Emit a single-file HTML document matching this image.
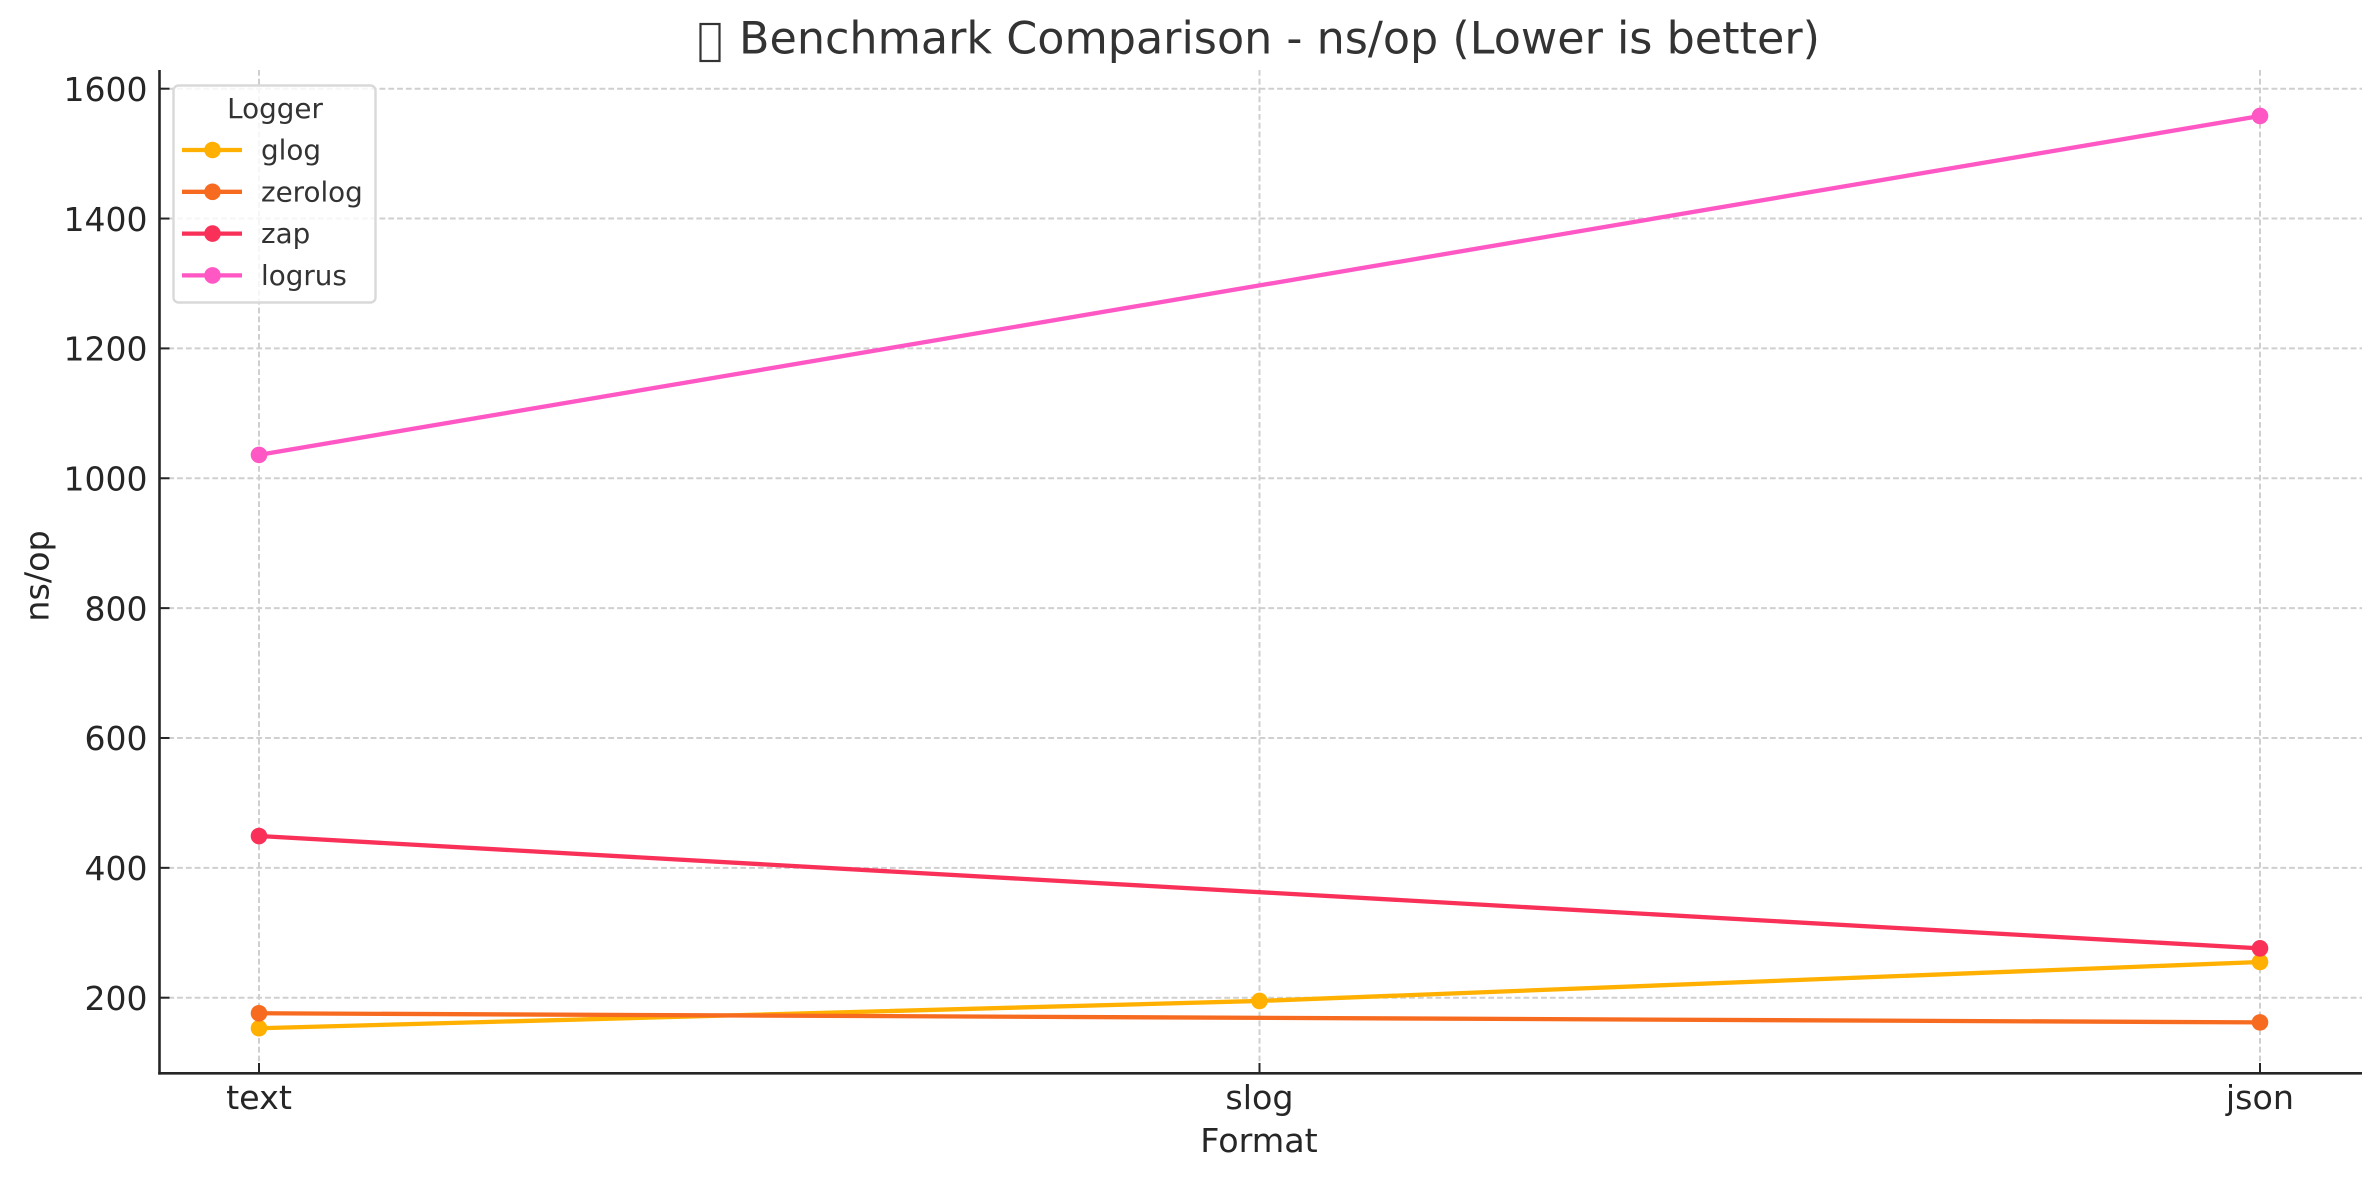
<!DOCTYPE html>
<html lang="en">
<head>
<meta charset="utf-8">
<title>Benchmark Comparison - ns/op</title>
<style>
  html, body { margin: 0; padding: 0; background: #fff; }
  svg { display: block; font-family: "DejaVu Sans", "Liberation Sans", sans-serif; }
</style>
</head>
<body>
<svg id="chart" xmlns="http://www.w3.org/2000/svg" width="2379" height="1180" viewBox="0 0 2379 1180">
  <rect x="0" y="0" width="2379" height="1180" fill="#ffffff"/>
  <g id="grid"></g>
  <g id="series"></g>
  <g id="ticks"></g>
  <line x1="159.5" y1="70" x2="159.5" y2="1074.6" stroke="#262626" stroke-width="2.6"/>
  <line x1="158.2" y1="1073.3" x2="2362" y2="1073.3" stroke="#262626" stroke-width="2.6"/>
  <rect x="700.5" y="24" width="19" height="37" fill="none" stroke="#333333" stroke-width="2.2"/>
  <text x="739" y="53.5" font-size="44.44" fill="#333333">Benchmark Comparison - ns/op (Lower is better)</text>
  <text x="1259" y="1152" font-size="33.33" fill="#262626" text-anchor="middle">Format</text>
  <text transform="translate(48.5,576) rotate(-90)" font-size="33.33" fill="#262626" text-anchor="middle">ns/op</text>
  <rect x="173.5" y="85.5" width="202" height="217" rx="5" ry="5" fill="#ffffff" fill-opacity="0.8" stroke="#d9d9d9" stroke-width="2.4"/>
  <text x="275" y="118" font-size="27.78" fill="#333333" text-anchor="middle">Logger</text>
  <g id="legend"></g>
</svg>
<script>
const categories = ["text", "slog", "json"];
const yTickValues = [200, 400, 600, 800, 1000, 1200, 1400, 1600];
const seriesNames = ["glog", "zerolog", "zap", "logrus"];
const seriesColors = ["#ffb000", "#f76b20", "#f93158", "#ff57c4"];
const glogValues = [153, 195, 255];
const zerologValues = [176, null, 162];
const zapValues = [449, null, 276];
const logrusValues = [1036, null, 1558];
const seriesValues = [glogValues, zerologValues, zapValues, logrusValues];

const NS = "http://www.w3.org/2000/svg";
function xScale(i) { return 259 + i * 1000.5; }
function yScale(v) { return 997.7 - (v - 200) * 0.64929; }
function make(parent, tag, attrs, text) {
  const el = document.createElementNS(NS, tag);
  for (const k in attrs) el.setAttribute(k, attrs[k]);
  if (text !== undefined) el.textContent = text;
  parent.appendChild(el);
  return el;
}

const grid = document.getElementById("grid");
const ticks = document.getElementById("ticks");
const seriesGroup = document.getElementById("series");
const legend = document.getElementById("legend");
const gridStyle = { stroke: "#cfcfcf", "stroke-width": 2, "stroke-dasharray": "5.8 3", fill: "none" };

yTickValues.forEach(function (v) {
  const y = yScale(v);
  const g = make(grid, "line", Object.assign({ x1: 159.5, y1: y, x2: 2362, y2: y }, gridStyle));
  
  
  const t = make(ticks, "line", { x1: 159.5, y1: y, x2: 169.5, y2: y, stroke: "#262626", "stroke-width": 2 });
  
  
  const l = make(ticks, "text", { x: 147.5, y: y + 12.2, "font-size": 33, fill: "#262626", "text-anchor": "end" }, String(v));
  
  
});

categories.forEach(function (c, i) {
  const x = xScale(i);
  const g = make(grid, "line", Object.assign({ x1: x, y1: 70, x2: x, y2: 1073 }, gridStyle));
  
  
  const t = make(ticks, "line", { x1: x, y1: 1073, x2: x, y2: 1063, stroke: "#262626", "stroke-width": 2 });
  
  
  const l = make(ticks, "text", { x: x, y: 1109, "font-size": 33.33, fill: "#262626", "text-anchor": "middle" }, c);
  
  
});

seriesNames.forEach(function (name, s) {
  const values = seriesValues[s];
  const color = seriesColors[s];
  const pts = [];
  values.forEach(function (v, i) {
    if (v !== null) pts.push([xScale(i), yScale(v)]);
  });
  const line = make(seriesGroup, "polyline", {
    points: pts.map(function (p) { return p.join(","); }).join(" "),
    fill: "none", stroke: color, "stroke-width": 4.3, "stroke-linejoin": "round"
  });
  
  
  pts.forEach(function (p) {
    const m = make(seriesGroup, "circle", { cx: p[0], cy: p[1], r: 8.3, fill: color });
    
    
  });

  const ly = 150 + s * 41.8;
  const ll = make(legend, "line", { x1: 182, y1: ly, x2: 242, y2: ly, stroke: color, "stroke-width": 4.3 });
  
  
  const lm = make(legend, "circle", { cx: 212.5, cy: ly, r: 8.3, fill: color });
  
  
  const lt = make(legend, "text", { x: 261, y: ly + 9.5, "font-size": 27.78, fill: "#333333" }, name);
  
  
});
</script>
</body>
</html>
